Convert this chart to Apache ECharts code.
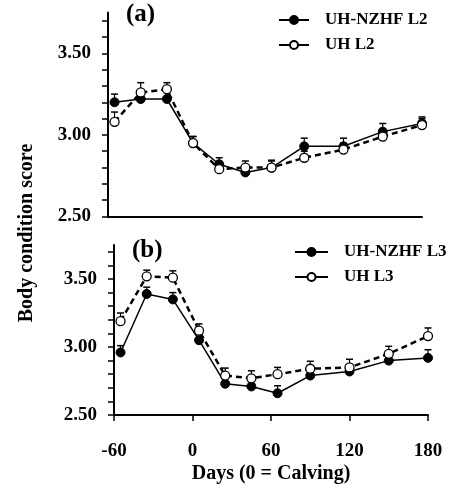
<!DOCTYPE html>
<html>
<head>
<meta charset="utf-8">
<script src="https://cdn.jsdelivr.net/npm/echarts@6/dist/echarts.min.js"></script>
<style>
html,body{margin:0;padding:0;background:#fff}
#chart{width:451px;height:493px}
</style>
</head>
<body>
<div id="chart"></div>
<script>
// sampling days (0 = calving)
var days = [-55, -35, -15, 5, 25, 45, 65, 90, 120, 150, 180]

// (a) second lactation
var nzhfL2 = [3.20, 3.22, 3.22, 2.95, 2.82, 2.77, 2.80, 2.93, 2.93, 3.02, 3.07]
var nzhfL2Err = [0.05, 0.04, 0.04, 0.04, 0.04, 0.04, 0.045, 0.05, 0.05, 0.05, 0.04]
var uhL2 = [3.08, 3.26, 3.28, 2.95, 2.79, 2.80, 2.80, 2.86, 2.91, 2.99, 3.06]
var uhL2Err = [0.06, 0.06, 0.04, 0.04, 0.04, 0.04, 0.04, 0.04, 0.04, 0.04, 0.04]

// (b) third lactation
var nzhfL3 = [2.96, 3.39, 3.35, 3.05, 2.73, 2.71, 2.66, 2.79, 2.82, 2.90, 2.92]
var nzhfL3Err = [0.05, 0.05, 0.05, 0.05, 0.04, 0.04, 0.055, 0.05, 0.05, 0.05, 0.06]
var uhL3 = [3.19, 3.52, 3.51, 3.12, 2.79, 2.77, 2.80, 2.84, 2.85, 2.95, 3.08]
var uhL3Err = [0.06, 0.045, 0.05, 0.05, 0.055, 0.055, 0.05, 0.055, 0.06, 0.055, 0.06]

var yLabels = [2.5, 3.0, 3.5]
var yTicks = [2.5, 2.6, 2.7, 2.8, 2.9, 3.0, 3.1, 3.2, 3.3, 3.4, 3.5, 3.6, 3.7]

var serif = '"Liberation Serif", "Times New Roman", serif'

function pairs(vals){
    return days.map(function(d, i){ return [d, vals[i]] })
}
function triples(vals, errs){
    return days.map(function(d, i){ return [d, vals[i], errs[i]] })
}

function errBar(params, api){
    var p = api.coord([api.value(0), api.value(1)])
    var t = api.coord([api.value(0), api.value(1) + api.value(2)])
    var w = 3.5
    return {
        type: 'group',
        children: [
            {type: 'line', shape: {x1: p[0], y1: p[1], x2: t[0], y2: t[1]}, style: {stroke: '#000', lineWidth: 1.2}},
            {type: 'line', shape: {x1: t[0] - w, y1: t[1], x2: t[0] + w, y2: t[1]}, style: {stroke: '#000', lineWidth: 1.5}}
        ]
    }
}

function yAxisOf(idx){
    return {
        type: 'value', gridIndex: idx, min: 2.5, max: 3.75,
        axisLine: {show: true, onZero: false, lineStyle: {color: '#000', width: 2}},
        axisTick: {show: true, length: 6, customValues: yTicks, lineStyle: {color: '#000', width: 1.5}},
        axisLabel: {
            customValues: yLabels, margin: 17, color: '#000',
            fontFamily: serif, fontWeight: 'bold', fontSize: 19,
            formatter: function(v){ return v.toFixed(2) }
        },
        splitLine: {show: false}
    }
}

function lineSeries(name, vals, idx, filled){
    return {
        name: name, type: 'line', xAxisIndex: idx, yAxisIndex: idx,
        data: pairs(vals), symbol: 'circle', symbolSize: 9, z: filled ? 3 : 4,
        lineStyle: filled ? {color: '#000', width: 1.5} : {color: '#000', width: 2.5, type: [6, 4]},
        itemStyle: filled ? {color: '#000', borderColor: '#000', borderWidth: 1} : {color: '#fff', borderColor: '#000', borderWidth: 1.3},
        emphasis: {disabled: true}
    }
}

function errSeries(vals, errs, idx){
    return {
        type: 'custom', xAxisIndex: idx, yAxisIndex: idx, z: 1,
        data: triples(vals, errs), renderItem: errBar,
        encode: {x: 0, y: 1}, silent: true
    }
}

function legendOf(names, left, top, w){
    return {
        data: names, orient: 'vertical', left: left, top: top, padding: 0,
        itemWidth: w, itemHeight: 10, itemGap: 8,
        lineStyle: {type: 'solid', width: 2},
        textStyle: {fontFamily: serif, fontWeight: 'bold', fontSize: 17, color: '#000', padding: [0, 0, 0, 11]},
        selectedMode: false
    }
}

var chart = echarts.init(document.getElementById('chart'))
var option = {
    animation: false,
    backgroundColor: '#fff',
    grid: [
        {left: 108, right: 29, top: 12.5, height: 204},
        {left: 114, right: 23, top: 245, height: 170}
    ],
    xAxis: [
        {
            type: 'value', gridIndex: 0, min: -60, max: 180, interval: 60,
            axisLine: {lineStyle: {color: '#000', width: 2}},
            axisTick: {show: false}, axisLabel: {show: false}, splitLine: {show: false}
        },
        {
            type: 'value', gridIndex: 1, min: -60, max: 180, interval: 60,
            axisLine: {lineStyle: {color: '#000', width: 2}},
            axisTick: {length: 6, lineStyle: {color: '#000', width: 1.5}},
            axisLabel: {margin: 27, color: '#000', fontFamily: serif, fontWeight: 'bold', fontSize: 19},
            splitLine: {show: false},
            name: 'Days (0 = Calving)', nameLocation: 'middle', nameGap: 49,
            nameTextStyle: {color: '#000', fontFamily: serif, fontWeight: 'bold', fontSize: 20}
        }
    ],
    yAxis: [yAxisOf(0), yAxisOf(1)],
    legend: [
        legendOf(['UH-NZHF L2', 'UH L2'], 278, 11.5, 30),
        legendOf(['UH-NZHF L3', 'UH L3'], 294, 243.5, 33)
    ],
    graphic: [
        {type: 'text', x: 126, y: 15, style: {text: '(a)', font: 'bold 25px ' + serif, fill: '#000', align: 'left', verticalAlign: 'middle'}},
        {type: 'text', x: 132, y: 251, style: {text: '(b)', font: 'bold 25px ' + serif, fill: '#000', align: 'left', verticalAlign: 'middle'}},
        {type: 'text', x: 27, y: 233, rotation: Math.PI / 2, style: {text: 'Body condition score', font: 'bold 20px ' + serif, fill: '#000', align: 'center', verticalAlign: 'middle'}}
    ],
    series: [
        errSeries(nzhfL2, nzhfL2Err, 0),
        errSeries(uhL2, uhL2Err, 0),
        lineSeries('UH-NZHF L2', nzhfL2, 0, true),
        lineSeries('UH L2', uhL2, 0, false),
        errSeries(nzhfL3, nzhfL3Err, 1),
        errSeries(uhL3, uhL3Err, 1),
        lineSeries('UH-NZHF L3', nzhfL3, 1, true),
        lineSeries('UH L3', uhL3, 1, false)
    ]
}
chart.setOption(option)
</script>
</body>
</html>
